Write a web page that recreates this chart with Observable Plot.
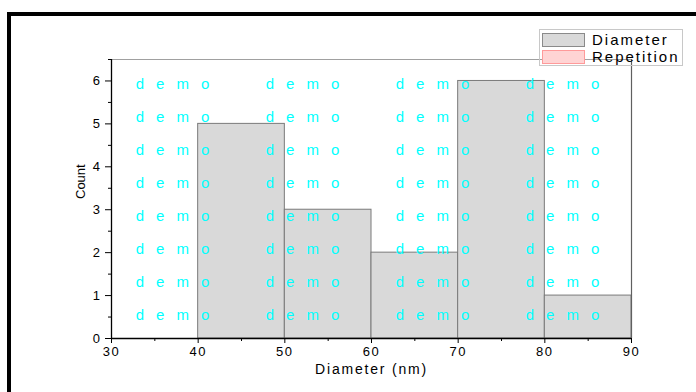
<!DOCTYPE html>
<html>
<head>
<meta charset="utf-8">
<script src="https://cdn.jsdelivr.net/npm/d3@7"></script>
<script src="https://cdn.jsdelivr.net/npm/@observablehq/plot@0.6"></script>
<style>
  html, body { margin: 0; padding: 0; background: #fff; overflow: hidden; }
  #wrap { position: relative; width: 696px; height: 392px; overflow: hidden; font-family: "Liberation Sans", Arial, sans-serif; }
  #frame { position: absolute; left: 7px; top: 12px; width: 720px; height: 420px; border-left: 4px solid #000; border-top: 4px solid #000; box-sizing: border-box; }
  #chart { position: absolute; left: 0; top: 0; }
  #legend { position: absolute; left: 539px; top: 29px; width: 144px; height: 37px; border: 1px solid #c8c8c8; box-sizing: border-box; }
  .item { position: absolute; left: 2px; height: 16px; display: flex; align-items: center; }
  .sw { width: 43px; height: 14px; box-sizing: border-box; margin-right: 7px; }
  .lab { font-size: 15px; letter-spacing: 2px; color: #000; line-height: 16px; }
</style>
</head>
<body>
<div id="wrap">
  <div id="frame"></div>
  <div id="chart"></div>
  <div id="legend"></div>
</div>
<script>
// Data
const binStart = [40, 50, 60, 70, 80];
const binEnd   = [50, 60, 70, 80, 90];
const counts   = [5, 3, 2, 6, 1];
const xTicks = [30, 40, 50, 60, 70, 80, 90];
const xMinorTicks = [35, 45, 55, 65, 75, 85];
const yTicks = [0, 1, 2, 3, 4, 5, 6];
const yMinorTicks = [0.5, 1.5, 2.5, 3.5, 4.5, 5.5, 6.5];
const legendNames = ["Diameter", "Repetition"];
const legendFills = ["#d9d9d9", "#ffd4d4"];
const legendStrokes = ["#8a8a8a", "#ff9a9a"];
// watermark grid (data units)
const wmX = [32.8, 47.8, 62.8, 77.8];
const wmY = [5.93, 5.16, 4.39, 3.62, 2.85, 2.08, 1.31, 0.54];

const bars = binStart.map((s, i) => ({x1: s, x2: binEnd[i], count: counts[i]}));
const wm = wmX.flatMap(x => wmY.map(y => ({x, y})));

const svg = Plot.plot({
  width: 696,
  height: 392,
  marginLeft: 111,
  marginRight: 65,
  marginTop: 59,
  marginBottom: 54,
  x: {domain: [30, 90]},
  y: {domain: [0, 6.5]},
  style: {fontFamily: "'Liberation Sans', Arial, sans-serif", fontSize: "13px", color: "#000", background: "transparent", overflow: "visible"},
  marks: [
    Plot.rectY(bars, {x1: "x1", x2: "x2", y: "count", fill: "#d9d9d9", stroke: "#7a7a7a", strokeWidth: 1, inset: 0}),
    Plot.ruleY([6.5], {stroke: "#a0a0a0", strokeWidth: 1.2}),
    Plot.ruleX([90], {stroke: "#606060", strokeWidth: 1.2}),
    Plot.ruleX([30], {stroke: "#000", strokeWidth: 1.3}),
    Plot.ruleY([0], {stroke: "#000", strokeWidth: 1.3}),
    Plot.axisY({ticks: yTicks, tickSize: 6, tickPadding: 4, fontSize: 13, label: null, tickFormat: d => String(d)}),
    Plot.axisY({ticks: yMinorTicks, tickSize: 3, label: null, tickFormat: () => ""}),
    Plot.axisX({ticks: xTicks, tickSize: 5, tickPadding: 3, fontSize: 13, label: null, tickFormat: d => String(d)}),
    Plot.axisX({ticks: xMinorTicks, tickSize: 3, label: null, tickFormat: () => ""}),
    Plot.text(["Count"], {frameAnchor: "left", rotate: -90, dx: -31, fontSize: 13, fill: "#000"}),
    Plot.text(["Diameter (nm)"], {frameAnchor: "bottom", lineAnchor: "middle", dy: 31, fontSize: 14, fill: "#000"}),
    Plot.text(wm, {x: "x", y: "y", text: () => "demo", textAnchor: "start", fill: "#00ffff", fontSize: 15})
  ]
});

svg.querySelectorAll("text").forEach(t => {
  const s = t.textContent;
  if (s === "demo") t.style.letterSpacing = "12px";
  else if (s === "Count") t.style.letterSpacing = "0px";
  else if (s === "Diameter (nm)") t.style.letterSpacing = "1.8px";
  else t.style.letterSpacing = "1.5px";
});

document.getElementById("chart").appendChild(svg);

const legend = document.getElementById("legend");
legendNames.forEach((name, i) => {
  const item = document.createElement("div");
  item.className = "item";
  item.style.top = (2 + i * 17) + "px";
  const sw = document.createElement("div");
  sw.className = "sw";
  sw.style.background = legendFills[i];
  sw.style.border = "1px solid " + legendStrokes[i];
  const lab = document.createElement("span");
  lab.className = "lab";
  lab.textContent = name;
  item.appendChild(sw);
  item.appendChild(lab);
  legend.appendChild(item);
});
</script>
</body>
</html>
